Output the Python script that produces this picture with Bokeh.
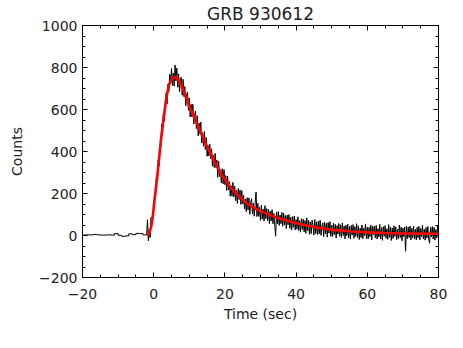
from bokeh.plotting import figure
from bokeh.models import FixedTicker, LinearAxis, Range1d
from bokeh.embed import file_html
from bokeh.resources import INLINE
import numpy as np

# ---- data ----
title_text = "GRB 930612"
x_label = "Time (sec)"
y_label = "Counts"

# low-resolution pre-burst background (1 s bins, left edges)
bg_edges = [-20, -19, -18, -17, -16, -15, -14, -13, -12, -11, -10, -9, -8, -7, -6, -5, -4, -3, -2]
bg_counts = [2, 3, 3, 5, 3, 2, 2, 3, 2, 9, 1, -4, -2, 8, 4, 10, 9, 3]

# high-resolution light curve, 0.25 s samples starting at t = -2 s
hr_t0 = -2.0
hr_dt = 0.25
hr_counts = [
    2, 75, -25, 30, -10, 85, 60, 95, 130,
    185, 180, 280, 265, 360, 330, 430, 424,
    530, 500, 585, 545, 630, 680, 627, 720,
    685, 768, 728, 795, 715, 774, 711, 812,
    736, 797, 706, 770, 683, 749, 754, 668,
    744, 661, 709, 617, 670, 683, 596, 655,
    565, 625, 565, 625, 531, 572, 593, 509,
    570, 475, 535, 485, 540, 440, 490, 425,
    495, 410, 466, 377, 428, 379, 435, 366,
    413, 330, 382, 324, 391, 323, 360, 277,
    354, 281, 313, 250, 318, 246, 314, 242,
    285, 214, 283, 217, 257, 187, 237, 187,
    253, 184, 235, 166, 217, 153, 224, 171,
    217, 148, 214, 150, 191, 127, 173, 114,
    180, 122, 179, 101, 158, 175, 102, 154,
    92, 155, 207, 90, 153, 91, 134, 72,
    145, 78, 126, 69, 142, 80, 128, 71,
    124, 57, 116, 69, 123, 56, 105, 48,
    -3, 111, 55, 114, 48, 97, 56, 110,
    44, 107, 51, 95, 33, 97, 51, 100,
    34, 87, 26, 90, 39, 93, 27, 76,
    30, 89, 23, 72, 16, 80, 29, 78,
    17, 71, 10, 84, 23, 72, 6, 65,
    9, 73, 48, 2, 76, 10, 65, 4,
    68, 8, 72, 1, 46, 60, -6, 64,
    8, 58, -8, 62, 11, 66, -4, 50,
    -5, 59, 4, 53, -12, 47, 7, 57,
    -4, 51, -9, 60, 0, 45, -16, 49,
    -1, 54, -12, 43, -17, 48, 2, 52,
    -13, 42, -4, 56, -9, 46, -19, 35,
    -10, 50, -15, 35, 0, 55, -15, 40,
    -16, 39, -6, 49, -21, 44, 4, 44,
    -12, 48, -17, 33, -7, 53, -17, 38,
    -23, 42, -3, 47, -13, 32, -18, 52,
    -9, 41, -24, 36, -14, 46, -4, 41,
    -20, 30, -15, 50, -10, 40, -25, 35,
    -5, 40, -75, 45, -15, 40, -10, 45,
    -21, 34, -11, 44, -16, 29, -21, 39,
    -11, 44, -21, 34, -6, 49, -16, 29,
    -22, 38, -12, 43, -17, -37, 38, -7,
    43, -17, 38, -22, 28, -12, 48, -2,
]

# fitted pulse model (red curve)
fit_t = [-1.8, -1.4, -1.0, -0.6, -0.2, 0.3, 1.0, 2.0, 2.9, 3.6, 4.3, 5.2, 6.2, 7.2, 8.5,
         10, 12.3, 14.5, 17, 19, 21.6, 24, 26.3, 30, 35.7, 40, 45, 50, 55, 60, 65, 70, 75, 80]
fit_counts = [0, 8, 25, 50, 100, 180, 280, 449, 575, 660, 718, 748, 757, 735, 686,
              615, 528, 440, 354, 290, 228, 186, 150, 115, 78, 58, 40, 27, 20, 15, 12, 10, 9, 8]

x_major = [-20, 0, 20, 40, 60, 80]
y_major = [-200, 0, 200, 400, 600, 800, 1000]
x_minor_step = 5
y_minor_step = 50

# ---- figure ----
FONT = "DejaVu Sans"
TXT = "#222222"

W, H = 460, 345
p = figure(width=W, height=H, title=title_text,
           x_range=Range1d(-20, 80), y_range=Range1d(-200, 1000),
           output_backend="svg", toolbar_location=None,
           min_border_left=82, min_border_right=W - 438,
           min_border_top=24, min_border_bottom=H - 277,
           background_fill_color="white", border_fill_color="white")
p.title.align = "center"
p.title.text_font = FONT
p.title.text_font_size = "17px"
p.title.text_font_style = "normal"
p.title.text_color = TXT
p.title.standoff = 3
p.xgrid.visible = False
p.ygrid.visible = False
p.outline_line_color = "black"
p.outline_line_width = 1

x_minor = list(np.arange(x_major[0], x_major[-1] + 0.1, x_minor_step))
y_minor = list(np.arange(y_major[0], y_major[-1] + 0.1, y_minor_step))
xt = FixedTicker(ticks=x_major, minor_ticks=x_minor)
yt = FixedTicker(ticks=y_major, minor_ticks=y_minor)


def style_axis(ax, ticker, show_labels):
    ax.ticker = ticker
    ax.axis_line_color = "black"
    ax.major_tick_line_color = "black"
    ax.minor_tick_line_color = "black"
    ax.major_tick_in = 5
    ax.major_tick_out = 0
    ax.minor_tick_in = 3
    ax.minor_tick_out = 0
    if show_labels:
        ax.major_label_text_font = FONT
        ax.major_label_text_font_size = "14px"
        ax.major_label_text_color = TXT
        ax.axis_label_text_font = FONT
        ax.axis_label_text_font_size = "14px"
        ax.axis_label_text_font_style = "normal"
        ax.axis_label_text_color = TXT
    else:
        ax.major_label_text_font_size = "0px"
        ax.major_label_text_color = None
        ax.major_label_standoff = 0


xa = p.xaxis[0]
ya = p.yaxis[0]
style_axis(xa, xt, True)
style_axis(ya, yt, True)
xa.axis_label = x_label
ya.axis_label = y_label
xa.major_label_standoff = 11
xa.axis_label_standoff = 4
ya.major_label_standoff = 5
ya.axis_label_standoff = 11
xa.major_label_overrides = {-20: "\u221220"}
ya.major_label_overrides = {-200: "\u2212200"}

top = LinearAxis()
style_axis(top, xt, False)
p.add_layout(top, "above")
right = LinearAxis()
style_axis(right, yt, False)
p.add_layout(right, "right")

# background steps
p.step(bg_edges, bg_counts + [bg_counts[-1]], mode="after", line_color="black", line_width=1)
# high resolution data
hr_t = [hr_t0 + hr_dt * i for i in range(len(hr_counts))]
p.line(hr_t, hr_counts, line_color="black", line_width=1)
# model fit
p.line(fit_t, fit_counts, line_color="#ff0000", line_width=2.6)

open("out.html", "w").write(file_html(p, INLINE))
